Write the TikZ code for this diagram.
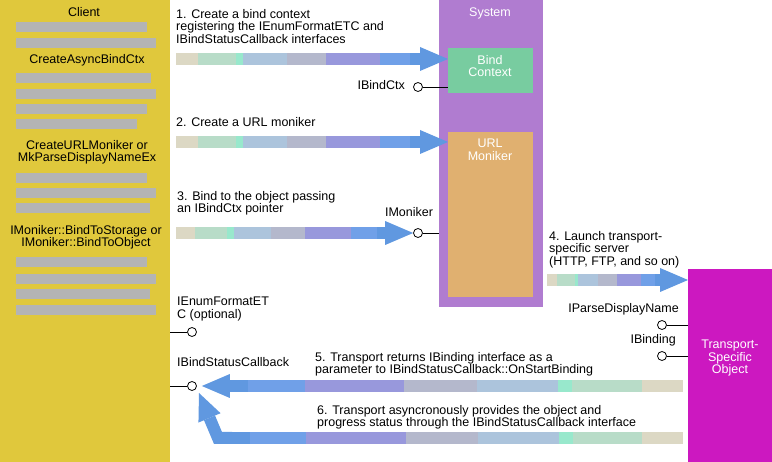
\documentclass[tikz,border=0pt]{standalone}
\usepackage{fontspec}
\setmainfont{Liberation Sans}
\usetikzlibrary{calc,positioning}
\definecolor{clientyellow}{HTML}{E0C83C}
\definecolor{bargray}{HTML}{B4B4B4}
\definecolor{syspurple}{HTML}{B07CD0}
\definecolor{ctxgreen}{HTML}{78CCA0}
\definecolor{monikertan}{HTML}{E0B070}
\definecolor{transmagenta}{HTML}{CC18C0}
\definecolor{flowA}{HTML}{DCD8C4}
\definecolor{flowB}{HTML}{B8DCC8}
\definecolor{flowC}{HTML}{98E8CC}
\definecolor{flowD}{HTML}{ACC4DC}
\definecolor{flowE}{HTML}{B4B8CC}
\definecolor{flowF}{HTML}{9898DC}
\definecolor{flowG}{HTML}{70A0E8}
\definecolor{flowblue}{HTML}{6098E0}
\tikzset{
  box/.style={draw=none, inner sep=0, anchor=north west},
  txt/.style={font=\fontsize{12.5}{12.7}\selectfont, inner sep=0},
  wtxt/.style={txt, text=white, align=center, anchor=north},
  ctxt/.style={txt, align=center, anchor=north},
  steptxt/.style={txt, align=left, anchor=north west},
  lolli/.style={circle, draw, fill=white, line width=0.8pt, minimum size=9pt, inner sep=0},
  stub/.style={line width=0.8pt}
}
% dithered body of a flow arrow, from #1 (tail) to #2
\newcommand{\flowbody}[2]{%
  \foreach \fa/\fb/\fc in {0/.09/flowA,.09/.245/flowB,.245/.275/flowC,.275/.455/flowD,.455/.615/flowE,.615/.835/flowF,.835/.96/flowG,.96/1.001/flowblue}
    \fill[\fc] ($(#1)!\fa!(#2)+(0,-6)$) rectangle ($(#1)!\fb!(#2)+(0,6)$);}
% flow arrow from #1 (tail) to #2 (tip)
\newcommand{\flowarrow}[2]{%
  \coordinate (fhb) at ($(#2)!28pt!(#1)$);
  \flowbody{#1}{fhb}
  \fill[flowblue] ($(fhb)+(0,-12)$) -- (#2) -- ($(fhb)+(0,12)$) -- cycle;}
\begin{document}
\begin{tikzpicture}[x=1pt,y=-1pt]
  \fill[white] (0,0) rectangle (772,462);
  \useasboundingbox (0,0) rectangle (772,462);
  % client
  \node[box, fill=clientyellow, minimum width=170pt, minimum height=462pt] (client) at (0,0) {};
  \foreach \y/\r in {22/147, 38/156, 73/151, 89/156, 104/147, 119/137, 173/147, 188/156, 203/150, 257/147, 274/156, 289/150, 305/156}
    \fill[bargray] (16,\y) rectangle (\r,\y+10);
  \node[txt, anchor=base] (cltitle) at (84,17) {Client};
  \node[txt, anchor=base] (cl1) at (87,64) {CreateAsyncBindCtx};
  \node[ctxt] (cl2) at (87,139.8) {CreateURLMoniker or\\MkParseDisplayNameEx};
  \node[ctxt] (cl3) at (86,224.8) {IMoniker::BindToStorage or\\IMoniker::BindToObject};
  % system
  \node[box, fill=syspurple, minimum width=104pt, minimum height=307pt] (sys) at (439,0) {};
  \node[txt, text=white, anchor=base] (systitle) at (490,17) {System};
  \node[box, fill=ctxgreen, minimum width=85pt, minimum height=45pt] (bctx) at (448,48) {};
  \node[wtxt] (bctxtxt) at (490,54.8) {Bind\\Context};
  \node[box, fill=monikertan, minimum width=85pt, minimum height=165pt] (url) at (448,132) {};
  \node[wtxt] (urltxt) at (490,138.8) {URL\\Moniker};
  % transport
  \node[box, fill=transmagenta, minimum width=84pt, minimum height=193pt] (trans) at (688,269) {};
  \node[wtxt] (transtxt) at (730,339.8) {Transport-\\Specific\\Object};
  % interfaces
  \node[lolli] (ibctx) at (418,87) {};
  \draw[stub] (ibctx) -- (ibctx -| bctx.west);
  \node[txt, anchor=base east] at (405,90) {IBindCtx};
  \node[lolli] (imk) at (418,233) {};
  \draw[stub] (imk) -- (imk -| sys.west);
  \node[txt, anchor=base] at (409,217) {IMoniker};
  \node[lolli] (ienum) at (192,332) {};
  \draw[stub] (ienum -| client.east) -- (ienum);
  \node[steptxt] at (177,296.8) {IEnumFormatET\\C (optional)};
  \node[lolli] (ibsc) at (192,386) {};
  \draw[stub] (ibsc -| client.east) -- (ibsc);
  \node[txt, anchor=base west] at (177,367) {IBindStatusCallback};
  \node[lolli] (ipdn) at (662,325) {};
  \draw[stub] (ipdn) -- (ipdn -| trans.west);
  \node[txt, anchor=base east] at (679,313) {IParseDisplayName};
  \node[lolli] (ibind) at (662,356) {};
  \draw[stub] (ibind) -- (ibind -| trans.west);
  \node[txt, anchor=base east] at (676,344) {IBinding};
  % steps
  \node[steptxt] (s1) at (176,8.8) {1. Create a bind context\\registering the IEnumFormatETC and\\IBindStatusCallback interfaces};
  \coordinate (t1) at (176,59);
  \flowarrow{t1}{bctx.west |- t1}
  \node[txt, anchor=base west] (s2) at (176,127) {2. Create a URL moniker};
  \coordinate (t2) at (176,142);
  \flowarrow{t2}{url.west |- t2}
  \node[steptxt] (s3) at (177,190.8) {3. Bind to the object passing\\an IBindCtx pointer};
  \coordinate (t3) at (176,233);
  \flowarrow{t3}{imk.west}
  \node[steptxt] (s4) at (549,230.8) {4. Launch transport-\\specific server\\(HTTP, FTP, and so on)};
  \coordinate (t4) at (547,280);
  \flowarrow{t4}{trans.west |- t4}
  \node[steptxt] (s5) at (315,351.8) {5. Transport returns IBinding interface as a\\parameter to IBindStatusCallback::OnStartBinding};
  \coordinate (t5) at (683,386);
  \flowarrow{t5}{$(ibsc.east)+(5,0)$}
  \node[steptxt] (s6) at (317,404.8) {6. Transport asyncronously provides the object and\\progress status through the IBindStatusCallback interface};
  \coordinate (t6) at (683,438);
  \coordinate (b6) at (232,438);
  \coordinate (c6) at (218,438);
  \coordinate (tip6) at ($(ibsc)+(7,7)$);
  \coordinate (hb6) at ($(tip6)!27pt!(c6)$);
  \flowbody{t6}{b6}
  \draw[flowblue, line width=12pt] (b6) -- (c6) -- (hb6);
  \fill[flowblue] ($(hb6)!12pt!90:(c6)$) -- (tip6) -- ($(hb6)!12pt!-90:(c6)$) -- cycle;
\end{tikzpicture}
\end{document}
